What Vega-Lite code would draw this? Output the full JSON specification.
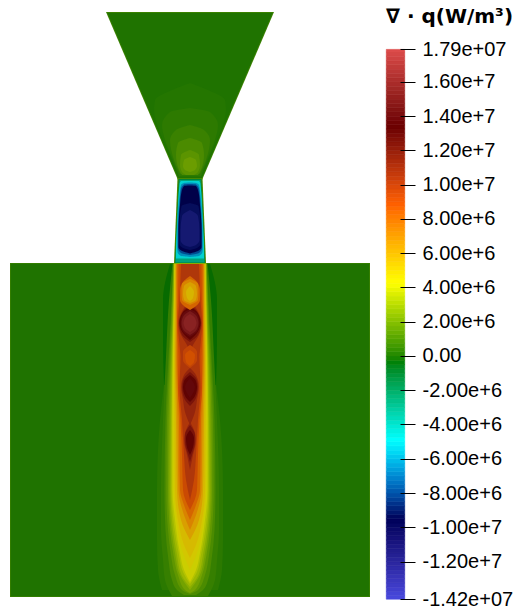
{"$schema":"https://vega.github.io/schema/vega-lite/v6.json","width":531,"height":616,"padding":0,"autosize":{"type":"none"},"background":"white","config":{"view":{"stroke":null}},
"title":{"text":"∇ · q(W/m³)","anchor":"start","frame":"group","dx":386,"offset":-27,"fontSize":20,"font":"DejaVu Sans","fontWeight":"bold","color":"#000000"},
"resolve":{"scale":{"x":"independent","y":"independent","color":"independent"},"axis":{"x":"independent","y":"independent"}},
"layer":[
{"data":{"values":[
{"g":"box0","v":0.6,"z":263,"l":-180,"r":180},{"g":"box0","v":0.6,"z":597,"l":-180,"r":180},
{"g":"fun0","v":0.6,"z":12,"l":-84,"r":84},{"g":"fun0","v":0.6,"z":180,"l":-12,"r":12},
{"g":"box","v":0,"z":263.8,"l":-179.2,"r":179.2},{"g":"box","v":0,"z":596.2,"l":-179.2,"r":179.2},
{"g":"fun","v":0,"z":13,"l":-82.5,"r":82.5},{"g":"fun","v":0,"z":179,"l":-11.5,"r":11.5},
{"g":"thr","v":0.9,"z":178,"l":-12.5,"r":12.5},{"g":"thr","v":0.9,"z":263,"l":-16,"r":16},
{"g":"f0","v":0.1,"z":83,"l":0,"r":0},{"g":"f0","v":0.1,"z":90,"l":-18,"r":18},{"g":"f0","v":0.1,"z":100,"l":-35,"r":35},{"g":"f0","v":0.1,"z":110,"l":-36,"r":36},{"g":"f0","v":0.1,"z":130,"l":-31,"r":31},{"g":"f0","v":0.1,"z":150,"l":-22.5,"r":22.5},{"g":"f0","v":0.1,"z":170,"l":-14,"r":14},{"g":"f0","v":0.1,"z":177,"l":-11.5,"r":11.5},
{"g":"f1","v":0.3,"z":108,"l":0,"r":0},{"g":"f1","v":0.3,"z":112,"l":-20,"r":20},{"g":"f1","v":0.3,"z":125,"l":-28,"r":28},{"g":"f1","v":0.3,"z":140,"l":-25,"r":25},{"g":"f1","v":0.3,"z":160,"l":-17,"r":17},{"g":"f1","v":0.3,"z":176,"l":-11,"r":11},
{"g":"f2","v":0.6,"z":125,"l":0,"r":0},{"g":"f2","v":0.6,"z":130,"l":-14,"r":14},{"g":"f2","v":0.6,"z":140,"l":-20,"r":20},{"g":"f2","v":0.6,"z":160,"l":-16,"r":16},{"g":"f2","v":0.6,"z":174,"l":-10,"r":10},
{"g":"f3","v":1,"z":138,"l":0,"r":0},{"g":"f3","v":1,"z":143,"l":-12,"r":12},{"g":"f3","v":1,"z":155,"l":-14,"r":14},{"g":"f3","v":1,"z":170,"l":-11,"r":11},{"g":"f3","v":1,"z":175,"l":-8,"r":8},
{"g":"f4","v":1.4,"z":150,"l":0,"r":0},{"g":"f4","v":1.4,"z":155,"l":-9,"r":9},{"g":"f4","v":1.4,"z":165,"l":-10,"r":10},{"g":"f4","v":1.4,"z":172,"l":-8,"r":8},{"g":"f4","v":1.4,"z":175,"l":-4,"r":4},
{"g":"f5","v":1.8,"z":157,"l":0,"r":0},{"g":"f5","v":1.8,"z":160,"l":-6,"r":6},{"g":"f5","v":1.8,"z":166,"l":-7,"r":7},{"g":"f5","v":1.8,"z":170,"l":-5,"r":5},{"g":"f5","v":1.8,"z":172,"l":0,"r":0},
{"g":"t0","v":-1.5,"z":179,"l":-11.3,"r":11.3},{"g":"t0","v":-1.5,"z":222,"l":-13.3,"r":13.3},{"g":"t0","v":-1.5,"z":263,"l":-15,"r":15},
{"g":"t1","v":-3,"z":180,"l":-10.5,"r":10.5},{"g":"t1","v":-3,"z":222,"l":-13,"r":13},{"g":"t1","v":-3,"z":262.5,"l":-14.5,"r":14.5},
{"g":"t2","v":-5,"z":181,"l":-9,"r":9},{"g":"t2","v":-5,"z":183,"l":-10.3,"r":10.3},{"g":"t2","v":-5,"z":222,"l":-12.7,"r":12.7},{"g":"t2","v":-5,"z":254,"l":-14,"r":14},{"g":"t2","v":-5,"z":258.5,"l":-14,"r":14},
{"g":"t3","v":-6.5,"z":182.5,"l":0,"r":0},{"g":"t3","v":-6.5,"z":183,"l":-6,"r":6},{"g":"t3","v":-6.5,"z":185,"l":-9,"r":9},{"g":"t3","v":-6.5,"z":195,"l":-10.5,"r":10.5},{"g":"t3","v":-6.5,"z":222,"l":-12.4,"r":12.4},{"g":"t3","v":-6.5,"z":245,"l":-13,"r":13},{"g":"t3","v":-6.5,"z":252,"l":-12.5,"r":12.5},{"g":"t3","v":-6.5,"z":256,"l":-9,"r":9},{"g":"t3","v":-6.5,"z":257,"l":0,"r":0},
{"g":"t4","v":-8,"z":184,"l":0,"r":0},{"g":"t4","v":-8,"z":184.5,"l":-6,"r":6},{"g":"t4","v":-8,"z":189,"l":-9,"r":9},{"g":"t4","v":-8,"z":205,"l":-10.5,"r":10.5},{"g":"t4","v":-8,"z":230,"l":-12,"r":12},{"g":"t4","v":-8,"z":248,"l":-12,"r":12},{"g":"t4","v":-8,"z":253,"l":-9,"r":9},{"g":"t4","v":-8,"z":255,"l":0,"r":0},
{"g":"t5","v":-9.6,"z":185.5,"l":0,"r":0},{"g":"t5","v":-9.6,"z":186,"l":-6,"r":6},{"g":"t5","v":-9.6,"z":192,"l":-8.5,"r":8.5},{"g":"t5","v":-9.6,"z":205,"l":-10,"r":10},{"g":"t5","v":-9.6,"z":230,"l":-11.5,"r":11.5},{"g":"t5","v":-9.6,"z":247,"l":-11.5,"r":11.5},{"g":"t5","v":-9.6,"z":251,"l":-8,"r":8},{"g":"t5","v":-9.6,"z":253.5,"l":0,"r":0},
{"g":"t6","v":-10.5,"z":203,"l":0,"r":0},{"g":"t6","v":-10.5,"z":206,"l":-8.5,"r":8.5},{"g":"t6","v":-10.5,"z":225,"l":-10.5,"r":10.5},{"g":"t6","v":-10.5,"z":244,"l":-10.5,"r":10.5},{"g":"t6","v":-10.5,"z":248,"l":-7,"r":7},{"g":"t6","v":-10.5,"z":250,"l":0,"r":0},
{"g":"t7","v":-11.5,"z":210,"l":0,"r":0},{"g":"t7","v":-11.5,"z":216,"l":-8,"r":8},{"g":"t7","v":-11.5,"z":230,"l":-9.5,"r":9.5},{"g":"t7","v":-11.5,"z":240,"l":-9.5,"r":9.5},{"g":"t7","v":-11.5,"z":245,"l":-6,"r":6},{"g":"t7","v":-11.5,"z":247,"l":0,"r":0},
{"g":"n","v":-0.35,"z":264,"l":-20,"r":20},{"g":"n","v":-0.35,"z":300,"l":-27,"r":27},{"g":"n","v":-0.35,"z":340,"l":-27,"r":27},{"g":"n","v":-0.35,"z":385,"l":-26,"r":26},
{"g":"pa","v":0.25,"z":385,"l":-26,"r":26},{"g":"pa","v":0.25,"z":420,"l":-30,"r":30},{"g":"pa","v":0.25,"z":490,"l":-33,"r":33},{"g":"pa","v":0.25,"z":540,"l":-33,"r":33},{"g":"pa","v":0.25,"z":570,"l":-32,"r":32},{"g":"pa","v":0.25,"z":590,"l":-28,"r":28},
{"g":"p0","v":0.5,"z":263.5,"l":-17.5,"r":17.5},{"g":"p0","v":0.5,"z":300,"l":-21,"r":21},{"g":"p0","v":0.5,"z":357,"l":-24,"r":24},{"g":"p0","v":0.5,"z":420,"l":-27,"r":27},{"g":"p0","v":0.5,"z":490,"l":-29,"r":29},{"g":"p0","v":0.5,"z":530,"l":-29,"r":29},{"g":"p0","v":0.5,"z":560,"l":-27,"r":27},{"g":"p0","v":0.5,"z":580,"l":-25,"r":25},{"g":"p0","v":0.5,"z":596,"l":-18,"r":18},
{"g":"p1","v":1,"z":263.5,"l":-17,"r":17},{"g":"p1","v":1,"z":280,"l":-17.5,"r":17.5},{"g":"p1","v":1,"z":300,"l":-18.5,"r":18.5},{"g":"p1","v":1,"z":323,"l":-19.5,"r":19.5},{"g":"p1","v":1,"z":357,"l":-21.5,"r":21.5},{"g":"p1","v":1,"z":420,"l":-24.5,"r":24.5},{"g":"p1","v":1,"z":490,"l":-25.5,"r":25.5},{"g":"p1","v":1,"z":530,"l":-24.5,"r":24.5},{"g":"p1","v":1,"z":560,"l":-21.5,"r":21.5},{"g":"p1","v":1,"z":580,"l":-18,"r":18},{"g":"p1","v":1,"z":590,"l":-13,"r":13},{"g":"p1","v":1,"z":595,"l":-6,"r":6},
{"g":"pb","v":1.5,"z":263.5,"l":-16.8,"r":16.8},{"g":"pb","v":1.5,"z":300,"l":-18,"r":18},{"g":"pb","v":1.5,"z":357,"l":-20.5,"r":20.5},{"g":"pb","v":1.5,"z":420,"l":-23,"r":23},{"g":"pb","v":1.5,"z":490,"l":-23.7,"r":23.7},{"g":"pb","v":1.5,"z":530,"l":-22,"r":22},{"g":"pb","v":1.5,"z":555,"l":-19,"r":19},{"g":"pb","v":1.5,"z":575,"l":-15,"r":15},{"g":"pb","v":1.5,"z":590,"l":-8,"r":8},{"g":"pb","v":1.5,"z":594,"l":0,"r":0},
{"g":"p2","v":2,"z":263.5,"l":-16.5,"r":16.5},{"g":"p2","v":2,"z":300,"l":-17.5,"r":17.5},{"g":"p2","v":2,"z":323,"l":-18,"r":18},{"g":"p2","v":2,"z":357,"l":-19.5,"r":19.5},{"g":"p2","v":2,"z":420,"l":-21.5,"r":21.5},{"g":"p2","v":2,"z":490,"l":-22,"r":22},{"g":"p2","v":2,"z":530,"l":-20,"r":20},{"g":"p2","v":2,"z":555,"l":-16.5,"r":16.5},{"g":"p2","v":2,"z":575,"l":-12,"r":12},{"g":"p2","v":2,"z":590,"l":-5,"r":5},{"g":"p2","v":2,"z":593,"l":0,"r":0},
{"g":"pc","v":2.5,"z":263.5,"l":-16.2,"r":16.2},{"g":"pc","v":2.5,"z":300,"l":-17,"r":17},{"g":"pc","v":2.5,"z":357,"l":-18.7,"r":18.7},{"g":"pc","v":2.5,"z":420,"l":-20.2,"r":20.2},{"g":"pc","v":2.5,"z":490,"l":-20.7,"r":20.7},{"g":"pc","v":2.5,"z":530,"l":-18.5,"r":18.5},{"g":"pc","v":2.5,"z":555,"l":-14.7,"r":14.7},{"g":"pc","v":2.5,"z":575,"l":-10,"r":10},{"g":"pc","v":2.5,"z":590,"l":0,"r":0},
{"g":"p3","v":3,"z":263.5,"l":-16,"r":16},{"g":"p3","v":3,"z":300,"l":-16.5,"r":16.5},{"g":"p3","v":3,"z":357,"l":-18,"r":18},{"g":"p3","v":3,"z":420,"l":-19,"r":19},{"g":"p3","v":3,"z":490,"l":-19.5,"r":19.5},{"g":"p3","v":3,"z":530,"l":-17,"r":17},{"g":"p3","v":3,"z":555,"l":-13,"r":13},{"g":"p3","v":3,"z":575,"l":-8.5,"r":8.5},{"g":"p3","v":3,"z":587,"l":0,"r":0},
{"g":"pd","v":3.5,"z":264,"l":-15.7,"r":15.7},{"g":"pd","v":3.5,"z":300,"l":-16.2,"r":16.2},{"g":"pd","v":3.5,"z":357,"l":-17.5,"r":17.5},{"g":"pd","v":3.5,"z":420,"l":-18.2,"r":18.2},{"g":"pd","v":3.5,"z":490,"l":-18.5,"r":18.5},{"g":"pd","v":3.5,"z":525,"l":-16,"r":16},{"g":"pd","v":3.5,"z":555,"l":-11,"r":11},{"g":"pd","v":3.5,"z":572,"l":-7,"r":7},{"g":"pd","v":3.5,"z":584,"l":0,"r":0},
{"g":"p4","v":4,"z":264,"l":-15.5,"r":15.5},{"g":"p4","v":4,"z":300,"l":-16,"r":16},{"g":"p4","v":4,"z":357,"l":-17,"r":17},{"g":"p4","v":4,"z":420,"l":-17.5,"r":17.5},{"g":"p4","v":4,"z":490,"l":-17.5,"r":17.5},{"g":"p4","v":4,"z":520,"l":-15,"r":15},{"g":"p4","v":4,"z":553,"l":-10,"r":10},{"g":"p4","v":4,"z":570,"l":-6,"r":6},{"g":"p4","v":4,"z":582,"l":0,"r":0},
{"g":"pe","v":4.5,"z":264,"l":-15.2,"r":15.2},{"g":"pe","v":4.5,"z":300,"l":-15.7,"r":15.7},{"g":"pe","v":4.5,"z":357,"l":-16.5,"r":16.5},{"g":"pe","v":4.5,"z":420,"l":-16.5,"r":16.5},{"g":"pe","v":4.5,"z":490,"l":-16.2,"r":16.2},{"g":"pe","v":4.5,"z":520,"l":-13.5,"r":13.5},{"g":"pe","v":4.5,"z":550,"l":-8,"r":8},{"g":"pe","v":4.5,"z":570,"l":0,"r":0},
{"g":"p5","v":5,"z":264,"l":-15,"r":15},{"g":"p5","v":5,"z":300,"l":-15.5,"r":15.5},{"g":"p5","v":5,"z":357,"l":-16,"r":16},{"g":"p5","v":5,"z":420,"l":-15.5,"r":15.5},{"g":"p5","v":5,"z":490,"l":-15,"r":15},{"g":"p5","v":5,"z":520,"l":-12,"r":12},{"g":"p5","v":5,"z":545,"l":-6,"r":6},{"g":"p5","v":5,"z":558,"l":0,"r":0},
{"g":"p6","v":6,"z":264,"l":-14.5,"r":14.5},{"g":"p6","v":6,"z":300,"l":-14.5,"r":14.5},{"g":"p6","v":6,"z":357,"l":-15,"r":15},{"g":"p6","v":6,"z":420,"l":-14,"r":14},{"g":"p6","v":6,"z":490,"l":-13,"r":13},{"g":"p6","v":6,"z":520,"l":-9,"r":9},{"g":"p6","v":6,"z":540,"l":0,"r":0},
{"g":"p7","v":7,"z":264,"l":-14,"r":14},{"g":"p7","v":7,"z":300,"l":-14,"r":14},{"g":"p7","v":7,"z":357,"l":-14,"r":14},{"g":"p7","v":7,"z":420,"l":-12.5,"r":12.5},{"g":"p7","v":7,"z":490,"l":-11.5,"r":11.5},{"g":"p7","v":7,"z":515,"l":-6,"r":6},{"g":"p7","v":7,"z":530,"l":0,"r":0},
{"g":"p8","v":8,"z":264,"l":-13,"r":13},{"g":"p8","v":8,"z":300,"l":-13,"r":13},{"g":"p8","v":8,"z":357,"l":-13,"r":13},{"g":"p8","v":8,"z":420,"l":-11,"r":11},{"g":"p8","v":8,"z":490,"l":-10,"r":10},{"g":"p8","v":8,"z":505,"l":-6,"r":6},{"g":"p8","v":8,"z":520,"l":0,"r":0},
{"g":"p9","v":9,"z":264,"l":-11.5,"r":11.5},{"g":"p9","v":9,"z":300,"l":-12,"r":12},{"g":"p9","v":9,"z":323,"l":-13,"r":13},{"g":"p9","v":9,"z":357,"l":-11.5,"r":11.5},{"g":"p9","v":9,"z":387,"l":-12,"r":12},{"g":"p9","v":9,"z":420,"l":-9.5,"r":9.5},{"g":"p9","v":9,"z":455,"l":-8,"r":8},{"g":"p9","v":9,"z":490,"l":-7,"r":7},{"g":"p9","v":9,"z":510,"l":0,"r":0},
{"g":"p10","v":10,"z":264,"l":-9,"r":9},{"g":"p10","v":10,"z":300,"l":-10.5,"r":10.5},{"g":"p10","v":10,"z":323,"l":-12,"r":12},{"g":"p10","v":10,"z":345,"l":-10.5,"r":10.5},{"g":"p10","v":10,"z":357,"l":-9.5,"r":9.5},{"g":"p10","v":10,"z":387,"l":-10.5,"r":10.5},{"g":"p10","v":10,"z":420,"l":-8,"r":8},{"g":"p10","v":10,"z":455,"l":-6,"r":6},{"g":"p10","v":10,"z":480,"l":-4,"r":4},{"g":"p10","v":10,"z":500,"l":0,"r":0},
{"g":"a1","v":11,"z":300,"l":0,"r":0},{"g":"a1","v":11,"z":308,"l":-6,"r":6},{"g":"a1","v":11,"z":323,"l":-11.5,"r":11.5},{"g":"a1","v":11,"z":335,"l":-9,"r":9},{"g":"a1","v":11,"z":345,"l":-3,"r":3},{"g":"a1","v":11,"z":352,"l":0,"r":0},
{"g":"a2","v":12,"z":305,"l":0,"r":0},{"g":"a2","v":12,"z":310,"l":-6,"r":6},{"g":"a2","v":12,"z":323,"l":-11,"r":11},{"g":"a2","v":12,"z":335,"l":-8,"r":8},{"g":"a2","v":12,"z":342,"l":0,"r":0},
{"g":"a3","v":13,"z":307,"l":0,"r":0},{"g":"a3","v":13,"z":312,"l":-7,"r":7},{"g":"a3","v":13,"z":323,"l":-10.5,"r":10.5},{"g":"a3","v":13,"z":333,"l":-7,"r":7},{"g":"a3","v":13,"z":340,"l":0,"r":0},
{"g":"a4","v":14,"z":309,"l":0,"r":0},{"g":"a4","v":14,"z":314,"l":-7.5,"r":7.5},{"g":"a4","v":14,"z":323,"l":-9.5,"r":9.5},{"g":"a4","v":14,"z":331,"l":-7.5,"r":7.5},{"g":"a4","v":14,"z":337,"l":0,"r":0},
{"g":"a5","v":15,"z":311,"l":0,"r":0},{"g":"a5","v":15,"z":316,"l":-6.5,"r":6.5},{"g":"a5","v":15,"z":323,"l":-8.5,"r":8.5},{"g":"a5","v":15,"z":330,"l":-6.5,"r":6.5},{"g":"a5","v":15,"z":335,"l":0,"r":0},
{"g":"a6","v":15.7,"z":314,"l":0,"r":0},{"g":"a6","v":15.7,"z":318,"l":-5,"r":5},{"g":"a6","v":15.7,"z":323,"l":-6.5,"r":6.5},{"g":"a6","v":15.7,"z":328,"l":-5,"r":5},{"g":"a6","v":15.7,"z":332,"l":0,"r":0},
{"g":"b1","v":11,"z":368,"l":0,"r":0},{"g":"b1","v":11,"z":375,"l":-6,"r":6},{"g":"b1","v":11,"z":387,"l":-9,"r":9},{"g":"b1","v":11,"z":400,"l":-7,"r":7},{"g":"b1","v":11,"z":412,"l":-5,"r":5},{"g":"b1","v":11,"z":425,"l":0,"r":0},
{"g":"b2","v":12,"z":372,"l":0,"r":0},{"g":"b2","v":12,"z":380,"l":-7,"r":7},{"g":"b2","v":12,"z":387,"l":-8,"r":8},{"g":"b2","v":12,"z":398,"l":-6,"r":6},{"g":"b2","v":12,"z":406,"l":0,"r":0},
{"g":"b3","v":13,"z":375,"l":0,"r":0},{"g":"b3","v":13,"z":381,"l":-6,"r":6},{"g":"b3","v":13,"z":387,"l":-7,"r":7},{"g":"b3","v":13,"z":396,"l":-5,"r":5},{"g":"b3","v":13,"z":402,"l":0,"r":0},
{"g":"b4","v":13.8,"z":378,"l":0,"r":0},{"g":"b4","v":13.8,"z":387,"l":-5,"r":5},{"g":"b4","v":13.8,"z":398,"l":0,"r":0},
{"g":"c1","v":11,"z":422,"l":0,"r":0},{"g":"c1","v":11,"z":430,"l":-4,"r":4},{"g":"c1","v":11,"z":440,"l":-6,"r":6},{"g":"c1","v":11,"z":455,"l":-3,"r":3},{"g":"c1","v":11,"z":470,"l":0,"r":0},
{"g":"c2","v":12,"z":425,"l":0,"r":0},{"g":"c2","v":12,"z":435,"l":-5,"r":5},{"g":"c2","v":12,"z":442,"l":-5,"r":5},{"g":"c2","v":12,"z":455,"l":-2,"r":2},{"g":"c2","v":12,"z":462,"l":0,"r":0},
{"g":"c3","v":13,"z":430,"l":0,"r":0},{"g":"c3","v":13,"z":438,"l":-4,"r":4},{"g":"c3","v":13,"z":445,"l":-3.5,"r":3.5},{"g":"c3","v":13,"z":455,"l":0,"r":0},
{"g":"h1","v":8,"z":276,"l":0,"r":0},{"g":"h1","v":8,"z":282,"l":-7,"r":7},{"g":"h1","v":8,"z":290,"l":-10,"r":10},{"g":"h1","v":8,"z":300,"l":-10,"r":10},{"g":"h1","v":8,"z":306,"l":-6,"r":6},{"g":"h1","v":8,"z":310,"l":0,"r":0},
{"g":"h2","v":7,"z":279,"l":0,"r":0},{"g":"h2","v":7,"z":284,"l":-8,"r":8},{"g":"h2","v":7,"z":292,"l":-8.5,"r":8.5},{"g":"h2","v":7,"z":300,"l":-8,"r":8},{"g":"h2","v":7,"z":305,"l":0,"r":0},
{"g":"h3","v":6,"z":282,"l":0,"r":0},{"g":"h3","v":6,"z":286,"l":-6,"r":6},{"g":"h3","v":6,"z":294,"l":-7,"r":7},{"g":"h3","v":6,"z":300,"l":-6,"r":6},{"g":"h3","v":6,"z":303,"l":0,"r":0},
{"g":"h4","v":5.2,"z":286,"l":0,"r":0},{"g":"h4","v":5.2,"z":292,"l":-4,"r":4},{"g":"h4","v":5.2,"z":298,"l":-3,"r":3},{"g":"h4","v":5.2,"z":301,"l":0,"r":0},
{"g":"h5","v":9.3,"z":345,"l":0,"r":0},{"g":"h5","v":9.3,"z":352,"l":-7,"r":7},{"g":"h5","v":9.3,"z":360,"l":-7,"r":7},{"g":"h5","v":9.3,"z":368,"l":0,"r":0},
{"g":"h6","v":8.7,"z":350,"l":0,"r":0},{"g":"h6","v":8.7,"z":355,"l":-5,"r":5},{"g":"h6","v":8.7,"z":362,"l":-4,"r":4},{"g":"h6","v":8.7,"z":366,"l":0,"r":0}
]},
"mark":{"type":"area","orient":"horizontal","interpolate":"monotone","clip":false},
"encoding":{
"x":{"field":"l","type":"quantitative","stack":null,"scale":{"domain":[-190,341],"range":[0,531]},"axis":null},
"x2":{"field":"r"},
"y":{"field":"z","type":"quantitative","scale":{"domain":[616,0],"range":[616,0]},"axis":null},
"detail":{"field":"g"},
"color":{"field":"v","type":"quantitative","legend":null,"scale":{"domain":[-14.2,-9.61,-5.05,-0.43,4.13,8.72,13.3,17.9],"range":["#3939b0","#000049","#00d1d1","#006900","#d1d100","#d14f00","#580000","#b83f3f"]}}
}},
{"data":{"values":[
{"v":-14.2,"t":-14},{"v":-14,"t":-13.75},{"v":-13.75,"t":-13.5},{"v":-13.5,"t":-13.25},{"v":-13.25,"t":-13},{"v":-13,"t":-12.75},{"v":-12.75,"t":-12.5},{"v":-12.5,"t":-12.25},{"v":-12.25,"t":-12},{"v":-12,"t":-11.75},{"v":-11.75,"t":-11.5},{"v":-11.5,"t":-11.25},{"v":-11.25,"t":-11},{"v":-11,"t":-10.75},{"v":-10.75,"t":-10.5},{"v":-10.5,"t":-10.25},{"v":-10.25,"t":-10},{"v":-10,"t":-9.75},{"v":-9.75,"t":-9.5},{"v":-9.5,"t":-9.25},{"v":-9.25,"t":-9},{"v":-9,"t":-8.75},{"v":-8.75,"t":-8.5},{"v":-8.5,"t":-8.25},{"v":-8.25,"t":-8},{"v":-8,"t":-7.75},{"v":-7.75,"t":-7.5},{"v":-7.5,"t":-7.25},{"v":-7.25,"t":-7},{"v":-7,"t":-6.75},{"v":-6.75,"t":-6.5},{"v":-6.5,"t":-6.25},{"v":-6.25,"t":-6},{"v":-6,"t":-5.75},{"v":-5.75,"t":-5.5},{"v":-5.5,"t":-5.25},{"v":-5.25,"t":-5},{"v":-5,"t":-4.75},{"v":-4.75,"t":-4.5},{"v":-4.5,"t":-4.25},{"v":-4.25,"t":-4},{"v":-4,"t":-3.75},{"v":-3.75,"t":-3.5},{"v":-3.5,"t":-3.25},{"v":-3.25,"t":-3},{"v":-3,"t":-2.75},{"v":-2.75,"t":-2.5},{"v":-2.5,"t":-2.25},{"v":-2.25,"t":-2},{"v":-2,"t":-1.75},{"v":-1.75,"t":-1.5},{"v":-1.5,"t":-1.25},{"v":-1.25,"t":-1},{"v":-1,"t":-0.75},{"v":-0.75,"t":-0.5},{"v":-0.5,"t":-0.25},{"v":-0.25,"t":0},{"v":0,"t":0.25},{"v":0.25,"t":0.5},{"v":0.5,"t":0.75},{"v":0.75,"t":1},{"v":1,"t":1.25},{"v":1.25,"t":1.5},{"v":1.5,"t":1.75},{"v":1.75,"t":2},{"v":2,"t":2.25},{"v":2.25,"t":2.5},{"v":2.5,"t":2.75},{"v":2.75,"t":3},{"v":3,"t":3.25},{"v":3.25,"t":3.5},{"v":3.5,"t":3.75},{"v":3.75,"t":4},{"v":4,"t":4.25},{"v":4.25,"t":4.5},{"v":4.5,"t":4.75},{"v":4.75,"t":5},{"v":5,"t":5.25},{"v":5.25,"t":5.5},{"v":5.5,"t":5.75},{"v":5.75,"t":6},{"v":6,"t":6.25},{"v":6.25,"t":6.5},{"v":6.5,"t":6.75},{"v":6.75,"t":7},{"v":7,"t":7.25},{"v":7.25,"t":7.5},{"v":7.5,"t":7.75},{"v":7.75,"t":8},{"v":8,"t":8.25},{"v":8.25,"t":8.5},{"v":8.5,"t":8.75},{"v":8.75,"t":9},{"v":9,"t":9.25},{"v":9.25,"t":9.5},{"v":9.5,"t":9.75},{"v":9.75,"t":10},{"v":10,"t":10.25},{"v":10.25,"t":10.5},{"v":10.5,"t":10.75},{"v":10.75,"t":11},{"v":11,"t":11.25},{"v":11.25,"t":11.5},{"v":11.5,"t":11.75},{"v":11.75,"t":12},{"v":12,"t":12.25},{"v":12.25,"t":12.5},{"v":12.5,"t":12.75},{"v":12.75,"t":13},{"v":13,"t":13.25},{"v":13.25,"t":13.5},{"v":13.5,"t":13.75},{"v":13.75,"t":14},{"v":14,"t":14.25},{"v":14.25,"t":14.5},{"v":14.5,"t":14.75},{"v":14.75,"t":15},{"v":15,"t":15.25},{"v":15.25,"t":15.5},{"v":15.5,"t":15.75},{"v":15.75,"t":16},{"v":16,"t":16.25},{"v":16.25,"t":16.5},{"v":16.5,"t":16.75},{"v":16.75,"t":17},{"v":17,"t":17.25},{"v":17.25,"t":17.5},{"v":17.5,"t":17.75},{"v":17.75,"t":17.9}
]},
"mark":{"type":"rect","strokeWidth":0.6},
"encoding":{
"x":{"datum":0,"type":"quantitative","scale":{"domain":[0,1],"range":[386.3,404.7]},"axis":null},
"x2":{"datum":1},
"y":{"field":"v","type":"quantitative","scale":{"domain":[-14.2,17.9],"range":[599.2,49.4]},"axis":{"orient":"right","offset":-131,"title":null,"values":[-14.2,-12,-10,-8,-6,-4,-2,0,2,4,6,8,10,12,14,16,17.9],"domain":false,"grid":false,"tickSize":15,"tickColor":"#000000","tickWidth":1,"labelPadding":7,"labelFontSize":20,"labelFont":"Liberation Sans","labelColor":"#000000","labelAlign":"left","labelBaseline":"middle","labelOverlap":false,"labelBound":false,"labelFlush":false,"zindex":1,"labelExpr":"datum.value==17.9?'1.79e+07':datum.value==-14.2?'-1.42e+07':datum.value==0?'0.00':replace(format(datum.value*1000000,'.2e'),'−','-')"}},
"y2":{"field":"t"},
"color":{"field":"v","type":"quantitative","legend":null,"scale":{"domain":[-14.2,-9.61,-5.05,-0.43,4.13,8.72,13.3,17.9],"range":["#4747db","#000059","#00ffff","#008000","#ffff00","#ff6100","#6b0000","#e04d4d"]}},
"stroke":{"field":"v","type":"quantitative","legend":null,"scale":{"domain":[-14.2,-9.61,-5.05,-0.43,4.13,8.72,13.3,17.9],"range":["#4747db","#000059","#00ffff","#008000","#ffff00","#ff6100","#6b0000","#e04d4d"]}}
}}
]}
